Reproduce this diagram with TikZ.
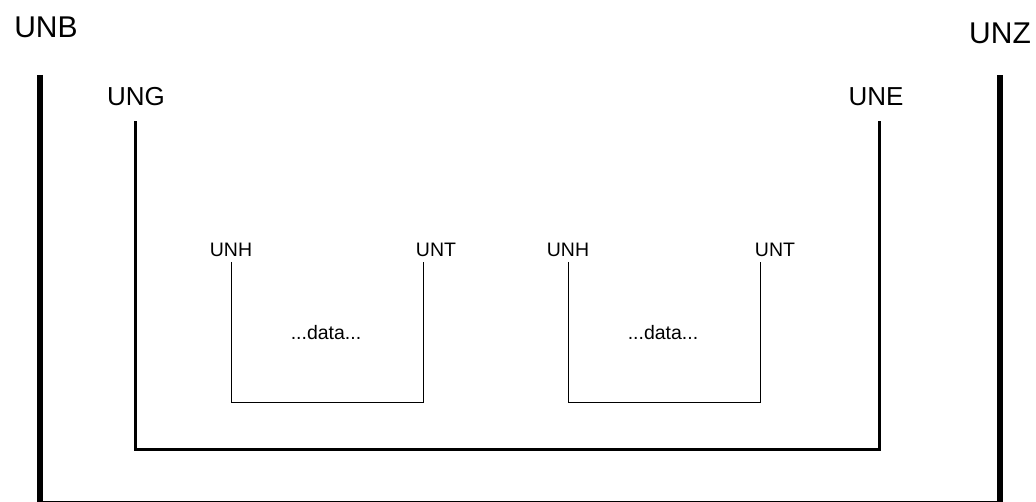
\documentclass[tikz,border=0pt]{standalone}
\usepackage{fontspec}
\setmainfont{Liberation Sans}
\begin{document}
\begin{tikzpicture}[x=1pt,y=-1pt,
  big/.style={font=\fontsize{30}{34}\selectfont, inner sep=0pt},
  mid/.style={font=\fontsize{26}{30}\selectfont, inner sep=0pt},
  small/.style={font=\fontsize{19.5}{23}\selectfont, inner sep=0pt},
  thickline/.style={line width=6pt},
  midline/.style={line width=3.3pt},
  thinline/.style={line width=1.8pt}]
\useasboundingbox (0,0) rectangle (1036,502);
% labels
\node[big] (unb) at (46,27) {UNB};
\node[big] (unz) at (1000,33) {UNZ};
\node[mid] (ung) at (136,97) {UNG};
\node[mid] (une) at (876,97) {UNE};
\node[small] (unh1) at (231,250) {UNH};
\node[small] (unt1) at (436,250) {UNT};
\node[small] (unh2) at (568,250) {UNH};
\node[small] (unt2) at (775,250) {UNT};
\node[small] (d1) at (326,333) {...data...};
\node[small] (d2) at (663,333) {...data...};
% coordinates
\coordinate (o1) at (40,75);
\coordinate (o2) at (40,502);
\coordinate (o3) at (1000,502);
\coordinate (o4) at (1000,75);
\coordinate (m1) at (135.5,121.5);
\coordinate (m2) at (135.5,449.3);
\coordinate (m3) at (879.3,449.3);
\coordinate (m4) at (879.3,121.5);
\coordinate (a1) at (231.5,262);
\coordinate (a2) at (231.5,402.5);
\coordinate (a3) at (423.5,402.5);
\coordinate (a4) at (423.5,262);
\coordinate (b1) at (568.5,262);
\coordinate (b2) at (568.5,402.5);
\coordinate (b3) at (760.5,402.5);
\coordinate (b4) at (760.5,262);
% brackets
\draw[thickline] (o1) -- (o2);
\draw[thickline] (o3) -- (o4);
\draw[line width=2pt] (o2) -- (o3);
\draw[midline] (m1) -- (m2) -- (m3) -- (m4);
\draw[thinline] (a1) -- (a2) -- (a3) -- (a4);
\draw[thinline] (b1) -- (b2) -- (b3) -- (b4);
\end{tikzpicture}
\end{document}
